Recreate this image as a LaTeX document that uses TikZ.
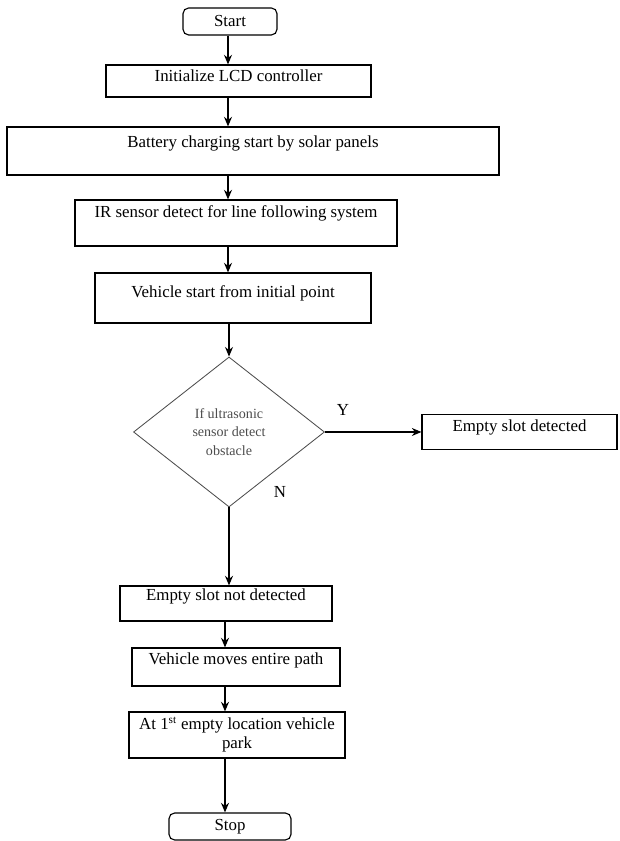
\documentclass[tikz,border=0pt]{standalone}
\usepackage{fontspec}
\setmainfont{Liberation Serif}
\usetikzlibrary{shapes.geometric,arrows.meta}
\def\flowbox(#1,#2,#3,#4,#5,#6,#7){
  \node[box, minimum width=#4, text height=#5, text depth=#6] (#1) at (#2,#3) {#7};
}

\begin{document}
\begin{tikzpicture}[font=\fontsize{12}{14}\selectfont, >={Stealth[length=2.4mm,width=2mm]},
  box/.style={draw, thick, inner xsep=2pt, inner ysep=0pt},
  term/.style={draw, thick, rounded corners=4pt, inner sep=0pt},
  dec/.style={draw=black!70, line width=0.6pt, shape=diamond, inner sep=0pt, text=black!70, align=center, font=\fontsize{10}{13}\selectfont}]
\useasboundingbox (0,0) rectangle (15.475,21.025);
\coordinate (ax) at (5.7,0);
\coordinate (bx) at (5.625,0);
\node[term, minimum width=2.35cm, minimum height=0.675cm] (st_box) at (5.75,20.4875) {Start};
\flowbox(init_box,5.9625,19.0,6.625cm,0.42cm,0.38cm,Initialize LCD controller)
\flowbox(batt_box,6.325,17.25,12.3cm,0.52cm,0.68cm,Battery charging start by solar panels)
\flowbox(ir_box,5.9,15.45,8.05cm,0.445cm,0.705cm,IR sensor detect for line following system)
\flowbox(veh_box,5.825,13.575,6.9cm,0.62cm,0.63cm,Vehicle start from initial point)
\node[dec, minimum width=4.775cm, minimum height=3.75cm] (dec_dia) at (5.725,10.225) {If ultrasonic\\sensor detect\\obstacle};
\flowbox(yes_box,12.9875,10.225,4.875cm,0.42cm,0.455cm,Empty slot detected)
\flowbox(no_box,5.65,5.9375,5.3cm,0.37cm,0.505cm,Empty slot not detected)
\flowbox(move_box,5.9,4.35,5.2cm,0.42cm,0.53cm,Vehicle moves entire path)
\node[box, minimum width=5.4cm, minimum height=1.15cm, align=center, font=\fontsize{12}{13.5}\selectfont] (park_box) at (5.925,2.65) {At 1\textsuperscript{st} empty location vehicle\\park};
\node[term, minimum width=3.05cm, minimum height=0.675cm] (end_box) at (5.75,0.3625) {Stop};
\node (lbl_y) at (8.575,10.775) {Y};
\node (lbl_n) at (7.0,8.725) {N};
% main line
\draw[thick,->] (st_box.south -| ax) -- (init_box.north -| ax);
\draw[thick,->] (init_box.south -| ax) -- (batt_box.north -| ax);
\draw[thick,->] (batt_box.south -| ax) -- (ir_box.north -| ax);
\draw[thick,->] (ir_box.south -| ax) -- (veh_box.north -| ax);
\draw[thick,->] (veh_box.south -| dec_dia.north) -- (dec_dia.north);
% branches
\draw[thick,->] (dec_dia.east) -- (yes_box.west);
\draw[thick,->] (dec_dia.south) -- (dec_dia.south |- no_box.north);
\draw[thick,->] (no_box.south -| bx) -- (move_box.north -| bx);
\draw[thick,->] (move_box.south -| bx) -- (park_box.north -| bx);
\draw[thick,->] (park_box.south -| bx) -- (end_box.north -| bx);
\end{tikzpicture}
\end{document}
